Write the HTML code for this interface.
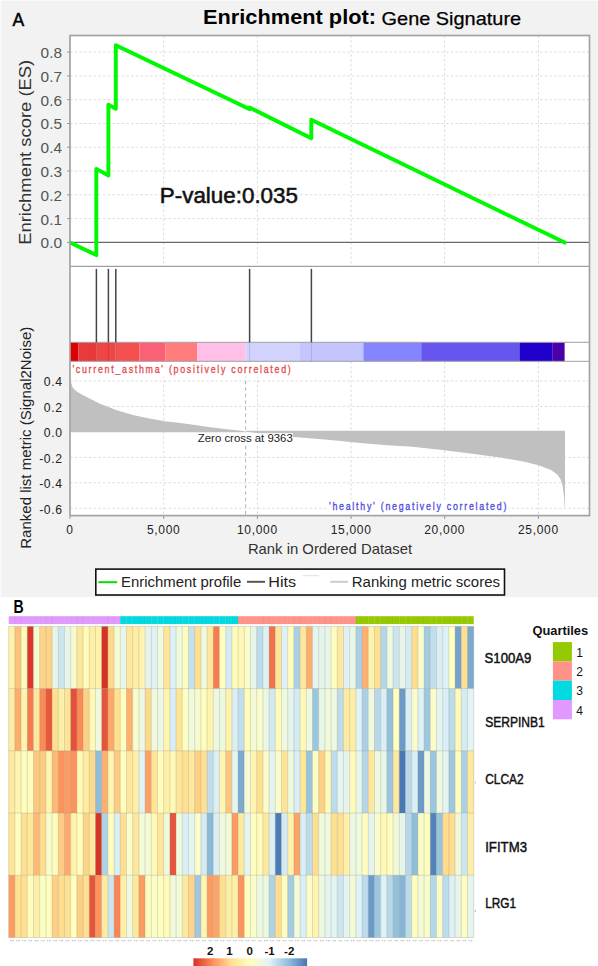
<!DOCTYPE html><html><head><meta charset="utf-8"><style>html,body{margin:0;padding:0;background:#fff;}svg{display:block}text{font-family:"Liberation Sans",sans-serif}</style></head><body>
<svg width="598" height="966" viewBox="0 0 598 966">
<rect x="0" y="0" width="598" height="597.2" fill="#f2f2f2"/><rect x="0" y="0" width="1.3" height="597.2" fill="#fafafa"/><rect x="0" y="0" width="598" height="1" fill="#fafafa"/>
<rect x="70.0" y="35.5" width="519.5" height="480.1" fill="#fff"/>
<g stroke="#dcdcdc" stroke-width="1" stroke-dasharray="2.5,2.2"><line x1="70.0" y1="218.6" x2="589.5" y2="218.6"/><line x1="70.0" y1="194.8" x2="589.5" y2="194.8"/><line x1="70.0" y1="171.0" x2="589.5" y2="171.0"/><line x1="70.0" y1="147.2" x2="589.5" y2="147.2"/><line x1="70.0" y1="123.5" x2="589.5" y2="123.5"/><line x1="70.0" y1="99.7" x2="589.5" y2="99.7"/><line x1="70.0" y1="75.9" x2="589.5" y2="75.9"/><line x1="70.0" y1="52.1" x2="589.5" y2="52.1"/><line x1="163.7" y1="35.5" x2="163.7" y2="266.5"/><line x1="163.7" y1="361.3" x2="163.7" y2="515.6"/><line x1="257.4" y1="35.5" x2="257.4" y2="266.5"/><line x1="257.4" y1="361.3" x2="257.4" y2="515.6"/><line x1="351.1" y1="35.5" x2="351.1" y2="266.5"/><line x1="351.1" y1="361.3" x2="351.1" y2="515.6"/><line x1="444.7" y1="35.5" x2="444.7" y2="266.5"/><line x1="444.7" y1="361.3" x2="444.7" y2="515.6"/><line x1="538.4" y1="35.5" x2="538.4" y2="266.5"/><line x1="538.4" y1="361.3" x2="538.4" y2="515.6"/><line x1="70.0" y1="381.0" x2="589.5" y2="381.0"/><line x1="70.0" y1="406.4" x2="589.5" y2="406.4"/><line x1="70.0" y1="457.4" x2="589.5" y2="457.4"/><line x1="70.0" y1="482.8" x2="589.5" y2="482.8"/><line x1="70.0" y1="508.3" x2="589.5" y2="508.3"/></g>
<line x1="70.0" y1="242.4" x2="589.5" y2="242.4" stroke="#6a6a6a" stroke-width="1.1"/>
<clipPath id="esclip"><rect x="69.3" y="36" width="520" height="230"/></clipPath>
<polyline clip-path="url(#esclip)" fill="none" stroke="#00f800" stroke-width="3.9" stroke-linejoin="round" stroke-linecap="round" points="70,242.4 96.3,255.1 96.3,168.9 108.4,175.5 108.4,104.6 115.8,108.8 115.8,45.3 249.3,109.1 249.6,107.6 311.3,138.2 311.3,119.7 564.7,242.6"/>
<line x1="70.0" y1="266.3" x2="589.5" y2="266.3" stroke="#a0a0a0" stroke-width="1.2"/>
<rect x="70" y="342.4" width="8.50" height="18.9" fill="#dd0000"/>
<rect x="78.5" y="342.4" width="18.10" height="18.9" fill="#e83a3a"/>
<rect x="96.6" y="342.4" width="19.00" height="18.9" fill="#ee4545"/>
<rect x="115.6" y="342.4" width="23.90" height="18.9" fill="#f55050"/>
<rect x="139.5" y="342.4" width="25.70" height="18.9" fill="#fb6176"/>
<rect x="165.2" y="342.4" width="32.10" height="18.9" fill="#ff7d7d"/>
<rect x="197.3" y="342.4" width="48.30" height="18.9" fill="#ffbfe6"/>
<rect x="245.6" y="342.4" width="17.40" height="18.9" fill="#d2d2ff"/>
<rect x="263" y="342.4" width="37.00" height="18.9" fill="#d2d2ff"/>
<rect x="300" y="342.4" width="63.40" height="18.9" fill="#c4c4ff"/>
<rect x="363.4" y="342.4" width="57.80" height="18.9" fill="#8585ff"/>
<rect x="421.2" y="342.4" width="98.20" height="18.9" fill="#6655ee"/>
<rect x="519.4" y="342.4" width="32.80" height="18.9" fill="#2200cc"/>
<rect x="552.2" y="342.4" width="12.40" height="18.9" fill="#4a00a8"/>
<line x1="70.0" y1="342.3" x2="589.5" y2="342.3" stroke="#a0a0a0" stroke-width="1"/>
<line x1="70.0" y1="361.3" x2="589.5" y2="361.3" stroke="#a0a0a0" stroke-width="1"/>
<line x1="96.4" y1="268.9" x2="96.4" y2="342.3" stroke="#454545" stroke-width="1.5"/>
<line x1="96.4" y1="342.3" x2="96.4" y2="361.3" stroke="#000" stroke-opacity="0.12" stroke-width="1"/>
<line x1="108.4" y1="268.9" x2="108.4" y2="342.3" stroke="#454545" stroke-width="1.5"/>
<line x1="108.4" y1="342.3" x2="108.4" y2="361.3" stroke="#000" stroke-opacity="0.12" stroke-width="1"/>
<line x1="115.8" y1="268.9" x2="115.8" y2="342.3" stroke="#454545" stroke-width="1.5"/>
<line x1="115.8" y1="342.3" x2="115.8" y2="361.3" stroke="#000" stroke-opacity="0.12" stroke-width="1"/>
<line x1="249.6" y1="268.9" x2="249.6" y2="342.3" stroke="#454545" stroke-width="1.5"/>
<line x1="249.6" y1="342.3" x2="249.6" y2="361.3" stroke="#000" stroke-opacity="0.12" stroke-width="1"/>
<line x1="311.4" y1="268.9" x2="311.4" y2="342.3" stroke="#454545" stroke-width="1.5"/>
<line x1="311.4" y1="342.3" x2="311.4" y2="361.3" stroke="#000" stroke-opacity="0.12" stroke-width="1"/>
<path d="M70.2,432.3 L70.2,382.3 L71,382.5 L72.7,387.5 L76,390.9 L82.7,395 L91,399.2 L99.4,403.4 L116.2,410.1 L132.9,415.1 L149.6,418.5 L166,421.5 L176.7,422.6 L193.4,424.7 L210.2,427.3 L226.9,429.3 L243.6,430.9 L245.5,431.8 L245.5,432.3 Z" fill="#c0c0c0"/>
<path d="M245.5,430.8 L245.5,431.8 L294.2,437 L330.3,440 L360.4,443 L390.5,445.5 L410,446.5 L440.1,449.7 L470.2,453.6 L500.3,457.5 L524.4,461.7 L539.4,465.6 L551.5,470.2 L557.5,474.7 L560.5,479.2 L562.6,485.2 L564.1,497.2 L564.7,507.8 L565,507.8 L565,430.8 Z" fill="#c0c0c0"/>
<line x1="245.6" y1="361.3" x2="245.6" y2="515.6" stroke="#b4b4b4" stroke-width="1" stroke-dasharray="3.5,3"/>
<rect x="197" y="433.2" width="96" height="11" fill="#fff"/>
<text x="197.8" y="442.1" font-size="10.6" fill="#222" textLength="95" lengthAdjust="spacingAndGlyphs">Zero cross at 9363</text>
<rect x="70.0" y="35.5" width="519.5" height="480.1" fill="none" stroke="#a4a4a4" stroke-width="1.7"/>
<line x1="67" y1="242.4" x2="70" y2="242.4" stroke="#999" stroke-width="1"/>
<text x="62" y="248.3" font-size="15.4" fill="#555" text-anchor="end">0.0</text>
<line x1="67" y1="218.6" x2="70" y2="218.6" stroke="#999" stroke-width="1"/>
<text x="62" y="224.5" font-size="15.4" fill="#555" text-anchor="end">0.1</text>
<line x1="67" y1="194.8" x2="70" y2="194.8" stroke="#999" stroke-width="1"/>
<text x="62" y="200.7" font-size="15.4" fill="#555" text-anchor="end">0.2</text>
<line x1="67" y1="171.0" x2="70" y2="171.0" stroke="#999" stroke-width="1"/>
<text x="62" y="176.9" font-size="15.4" fill="#555" text-anchor="end">0.3</text>
<line x1="67" y1="147.2" x2="70" y2="147.2" stroke="#999" stroke-width="1"/>
<text x="62" y="153.1" font-size="15.4" fill="#555" text-anchor="end">0.4</text>
<line x1="67" y1="123.5" x2="70" y2="123.5" stroke="#999" stroke-width="1"/>
<text x="62" y="129.3" font-size="15.4" fill="#555" text-anchor="end">0.5</text>
<line x1="67" y1="99.7" x2="70" y2="99.7" stroke="#999" stroke-width="1"/>
<text x="62" y="105.6" font-size="15.4" fill="#555" text-anchor="end">0.6</text>
<line x1="67" y1="75.9" x2="70" y2="75.9" stroke="#999" stroke-width="1"/>
<text x="62" y="81.8" font-size="15.4" fill="#555" text-anchor="end">0.7</text>
<line x1="67" y1="52.1" x2="70" y2="52.1" stroke="#999" stroke-width="1"/>
<text x="62" y="58.0" font-size="15.4" fill="#555" text-anchor="end">0.8</text>
<text x="62.6" y="386.3" font-size="12.2" fill="#222" text-anchor="end" letter-spacing="0.6">0.4</text>
<text x="62.6" y="411.7" font-size="12.2" fill="#222" text-anchor="end" letter-spacing="0.6">0.2</text>
<text x="62.6" y="437.2" font-size="12.2" fill="#222" text-anchor="end" letter-spacing="0.6">0.0</text>
<text x="62.6" y="462.7" font-size="12.2" fill="#222" text-anchor="end" letter-spacing="0.6">-0.2</text>
<text x="62.6" y="488.1" font-size="12.2" fill="#222" text-anchor="end" letter-spacing="0.6">-0.4</text>
<text x="62.6" y="513.6" font-size="12.2" fill="#222" text-anchor="end" letter-spacing="0.6">-0.6</text>
<line x1="70.0" y1="516" x2="70.0" y2="519" stroke="#999" stroke-width="1"/>
<text x="70.0" y="534.4" font-size="12" fill="#222" text-anchor="middle" letter-spacing="0.7">0</text>
<line x1="163.7" y1="516" x2="163.7" y2="519" stroke="#999" stroke-width="1"/>
<text x="163.7" y="534.4" font-size="12" fill="#222" text-anchor="middle" letter-spacing="0.7">5,000</text>
<line x1="257.4" y1="516" x2="257.4" y2="519" stroke="#999" stroke-width="1"/>
<text x="257.4" y="534.4" font-size="12" fill="#222" text-anchor="middle" letter-spacing="0.7">10,000</text>
<line x1="351.1" y1="516" x2="351.1" y2="519" stroke="#999" stroke-width="1"/>
<text x="351.1" y="534.4" font-size="12" fill="#222" text-anchor="middle" letter-spacing="0.7">15,000</text>
<line x1="444.7" y1="516" x2="444.7" y2="519" stroke="#999" stroke-width="1"/>
<text x="444.7" y="534.4" font-size="12" fill="#222" text-anchor="middle" letter-spacing="0.7">20,000</text>
<line x1="538.4" y1="516" x2="538.4" y2="519" stroke="#999" stroke-width="1"/>
<text x="538.4" y="534.4" font-size="12" fill="#222" text-anchor="middle" letter-spacing="0.7">25,000</text>
<text x="0" y="0" font-size="16.5" fill="#333" text-anchor="middle" transform="translate(31,152.3) rotate(-90)" textLength="185" lengthAdjust="spacingAndGlyphs">Enrichment score (ES)</text>
<text x="0" y="0" font-size="14.3" fill="#222" text-anchor="middle" transform="translate(31,437.75) rotate(-90)" textLength="222" lengthAdjust="spacingAndGlyphs">Ranked list metric (Signal2Noise)</text>
<text x="247.9" y="554.1" font-size="14.6" fill="#333" textLength="164.2" lengthAdjust="spacingAndGlyphs">Rank in Ordered Dataset</text>
<rect x="71" y="362.2" width="221" height="14.6" fill="#fff"/>
<text x="0" y="0" transform="translate(72.4,373.4) scale(0.82,1)" font-size="10.8" fill="#e25050" stroke="#e25050" stroke-width="0.35" textLength="266.3" lengthAdjust="spacing">&#39;current_asthma&#39; (positively correlated)</text>
<rect x="327" y="499.5" width="181" height="14" fill="#fff"/>
<text x="0" y="0" transform="translate(329,509.9) scale(0.82,1)" font-size="10.8" fill="#5050dc" stroke="#5050dc" stroke-width="0.35" textLength="216.3" lengthAdjust="spacing">&#39;healthy&#39; (negatively correlated)</text>
<text x="159.8" y="202.6" font-size="21.8" fill="#111" stroke="#111" stroke-width="0.55" textLength="138.2" lengthAdjust="spacingAndGlyphs">P-value:0.035</text>
<text x="12.6" y="25.6" font-size="17.5" fill="#000" stroke="#000" stroke-width="0.5">A</text>
<text x="203" y="23.5" font-size="20.3" font-weight="bold" fill="#000" textLength="173" lengthAdjust="spacingAndGlyphs">Enrichment plot:</text>
<text x="381.6" y="24.7" font-size="18.6" fill="#000" stroke="#000" stroke-width="0.25" textLength="139.5" lengthAdjust="spacingAndGlyphs">Gene Signature</text>
<rect x="95.8" y="569.1" width="408.7" height="25.9" fill="#fff" stroke="#111" stroke-width="1.6"/>
<line x1="98.4" y1="582.2" x2="117.2" y2="582.2" stroke="#00e000" stroke-width="2"/>
<text x="121" y="586.8" font-size="14" fill="#222" textLength="120.2" lengthAdjust="spacingAndGlyphs">Enrichment profile</text>
<line x1="247" y1="581.8" x2="265" y2="581.8" stroke="#555" stroke-width="2"/>
<text x="268.3" y="586.8" font-size="14" fill="#222" textLength="27.8" lengthAdjust="spacingAndGlyphs">Hits</text>
<line x1="302.7" y1="575.5" x2="319" y2="575.5" stroke="#e8e8e8" stroke-width="1.5"/>
<line x1="330.3" y1="581.8" x2="348" y2="581.8" stroke="#cccccc" stroke-width="2"/>
<text x="351.8" y="586.8" font-size="14" fill="#222" textLength="148.2" lengthAdjust="spacingAndGlyphs">Ranking metric scores</text>
<text x="0" y="0" font-size="18.5" font-weight="bold" fill="#000" transform="translate(13.6,613.3) scale(0.76,1)">B</text>
<rect x="8.70" y="616.2" width="6.20" height="7.9" fill="#E199FF"/>
<rect x="14.90" y="616.2" width="6.20" height="7.9" fill="#E199FF"/>
<rect x="21.10" y="616.2" width="6.20" height="7.9" fill="#E199FF"/>
<rect x="27.30" y="616.2" width="6.20" height="7.9" fill="#E199FF"/>
<rect x="33.50" y="616.2" width="6.20" height="7.9" fill="#E199FF"/>
<rect x="39.70" y="616.2" width="6.20" height="7.9" fill="#E199FF"/>
<rect x="45.90" y="616.2" width="6.20" height="7.9" fill="#E199FF"/>
<rect x="52.10" y="616.2" width="6.20" height="7.9" fill="#E199FF"/>
<rect x="58.30" y="616.2" width="6.20" height="7.9" fill="#E199FF"/>
<rect x="64.50" y="616.2" width="6.20" height="7.9" fill="#E199FF"/>
<rect x="70.70" y="616.2" width="6.20" height="7.9" fill="#E199FF"/>
<rect x="76.90" y="616.2" width="6.20" height="7.9" fill="#E199FF"/>
<rect x="83.10" y="616.2" width="6.20" height="7.9" fill="#E199FF"/>
<rect x="89.30" y="616.2" width="6.20" height="7.9" fill="#E199FF"/>
<rect x="95.50" y="616.2" width="6.20" height="7.9" fill="#E199FF"/>
<rect x="101.70" y="616.2" width="6.20" height="7.9" fill="#E199FF"/>
<rect x="107.90" y="616.2" width="6.20" height="7.9" fill="#E199FF"/>
<rect x="114.10" y="616.2" width="6.20" height="7.9" fill="#E199FF"/>
<rect x="120.30" y="616.2" width="6.20" height="7.9" fill="#00DAE0"/>
<rect x="126.50" y="616.2" width="6.20" height="7.9" fill="#00DAE0"/>
<rect x="132.70" y="616.2" width="6.20" height="7.9" fill="#00DAE0"/>
<rect x="138.90" y="616.2" width="6.20" height="7.9" fill="#00DAE0"/>
<rect x="145.10" y="616.2" width="6.20" height="7.9" fill="#00DAE0"/>
<rect x="151.30" y="616.2" width="6.20" height="7.9" fill="#00DAE0"/>
<rect x="157.50" y="616.2" width="6.20" height="7.9" fill="#00DAE0"/>
<rect x="163.70" y="616.2" width="6.20" height="7.9" fill="#00DAE0"/>
<rect x="169.90" y="616.2" width="6.20" height="7.9" fill="#00DAE0"/>
<rect x="176.10" y="616.2" width="6.20" height="7.9" fill="#00DAE0"/>
<rect x="182.30" y="616.2" width="6.20" height="7.9" fill="#00DAE0"/>
<rect x="188.50" y="616.2" width="6.20" height="7.9" fill="#00DAE0"/>
<rect x="194.70" y="616.2" width="6.20" height="7.9" fill="#00DAE0"/>
<rect x="200.90" y="616.2" width="6.20" height="7.9" fill="#00DAE0"/>
<rect x="207.10" y="616.2" width="6.20" height="7.9" fill="#00DAE0"/>
<rect x="213.30" y="616.2" width="6.20" height="7.9" fill="#00DAE0"/>
<rect x="219.50" y="616.2" width="6.20" height="7.9" fill="#00DAE0"/>
<rect x="225.70" y="616.2" width="6.20" height="7.9" fill="#00DAE0"/>
<rect x="231.90" y="616.2" width="6.20" height="7.9" fill="#00DAE0"/>
<rect x="238.10" y="616.2" width="6.20" height="7.9" fill="#FF9289"/>
<rect x="244.30" y="616.2" width="6.20" height="7.9" fill="#FF9289"/>
<rect x="250.50" y="616.2" width="6.20" height="7.9" fill="#FF9289"/>
<rect x="256.70" y="616.2" width="6.20" height="7.9" fill="#FF9289"/>
<rect x="262.90" y="616.2" width="6.20" height="7.9" fill="#FF9289"/>
<rect x="269.10" y="616.2" width="6.20" height="7.9" fill="#FF9289"/>
<rect x="275.30" y="616.2" width="6.20" height="7.9" fill="#FF9289"/>
<rect x="281.50" y="616.2" width="6.20" height="7.9" fill="#FF9289"/>
<rect x="287.70" y="616.2" width="6.20" height="7.9" fill="#FF9289"/>
<rect x="293.90" y="616.2" width="6.20" height="7.9" fill="#FF9289"/>
<rect x="300.10" y="616.2" width="6.20" height="7.9" fill="#FF9289"/>
<rect x="306.30" y="616.2" width="6.20" height="7.9" fill="#FF9289"/>
<rect x="312.50" y="616.2" width="6.20" height="7.9" fill="#FF9289"/>
<rect x="318.70" y="616.2" width="6.20" height="7.9" fill="#FF9289"/>
<rect x="324.90" y="616.2" width="6.20" height="7.9" fill="#FF9289"/>
<rect x="331.10" y="616.2" width="6.20" height="7.9" fill="#FF9289"/>
<rect x="337.30" y="616.2" width="6.20" height="7.9" fill="#FF9289"/>
<rect x="343.50" y="616.2" width="6.20" height="7.9" fill="#FF9289"/>
<rect x="349.70" y="616.2" width="6.20" height="7.9" fill="#FF9289"/>
<rect x="355.90" y="616.2" width="6.20" height="7.9" fill="#96CA00"/>
<rect x="362.10" y="616.2" width="6.20" height="7.9" fill="#96CA00"/>
<rect x="368.30" y="616.2" width="6.20" height="7.9" fill="#96CA00"/>
<rect x="374.50" y="616.2" width="6.20" height="7.9" fill="#96CA00"/>
<rect x="380.70" y="616.2" width="6.20" height="7.9" fill="#96CA00"/>
<rect x="386.90" y="616.2" width="6.20" height="7.9" fill="#96CA00"/>
<rect x="393.10" y="616.2" width="6.20" height="7.9" fill="#96CA00"/>
<rect x="399.30" y="616.2" width="6.20" height="7.9" fill="#96CA00"/>
<rect x="405.50" y="616.2" width="6.20" height="7.9" fill="#96CA00"/>
<rect x="411.70" y="616.2" width="6.20" height="7.9" fill="#96CA00"/>
<rect x="417.90" y="616.2" width="6.20" height="7.9" fill="#96CA00"/>
<rect x="424.10" y="616.2" width="6.20" height="7.9" fill="#96CA00"/>
<rect x="430.30" y="616.2" width="6.20" height="7.9" fill="#96CA00"/>
<rect x="436.50" y="616.2" width="6.20" height="7.9" fill="#96CA00"/>
<rect x="442.70" y="616.2" width="6.20" height="7.9" fill="#96CA00"/>
<rect x="448.90" y="616.2" width="6.20" height="7.9" fill="#96CA00"/>
<rect x="455.10" y="616.2" width="6.20" height="7.9" fill="#96CA00"/>
<rect x="461.30" y="616.2" width="6.20" height="7.9" fill="#96CA00"/>
<rect x="467.50" y="616.2" width="6.20" height="7.9" fill="#96CA00"/>
<g stroke="#000" stroke-opacity="0.12" stroke-width="0.6"><line x1="14.90" y1="616.2" x2="14.90" y2="624.1"/><line x1="21.10" y1="616.2" x2="21.10" y2="624.1"/><line x1="27.30" y1="616.2" x2="27.30" y2="624.1"/><line x1="33.50" y1="616.2" x2="33.50" y2="624.1"/><line x1="39.70" y1="616.2" x2="39.70" y2="624.1"/><line x1="45.90" y1="616.2" x2="45.90" y2="624.1"/><line x1="52.10" y1="616.2" x2="52.10" y2="624.1"/><line x1="58.30" y1="616.2" x2="58.30" y2="624.1"/><line x1="64.50" y1="616.2" x2="64.50" y2="624.1"/><line x1="70.70" y1="616.2" x2="70.70" y2="624.1"/><line x1="76.90" y1="616.2" x2="76.90" y2="624.1"/><line x1="83.10" y1="616.2" x2="83.10" y2="624.1"/><line x1="89.30" y1="616.2" x2="89.30" y2="624.1"/><line x1="95.50" y1="616.2" x2="95.50" y2="624.1"/><line x1="101.70" y1="616.2" x2="101.70" y2="624.1"/><line x1="107.90" y1="616.2" x2="107.90" y2="624.1"/><line x1="114.10" y1="616.2" x2="114.10" y2="624.1"/><line x1="120.30" y1="616.2" x2="120.30" y2="624.1"/><line x1="126.50" y1="616.2" x2="126.50" y2="624.1"/><line x1="132.70" y1="616.2" x2="132.70" y2="624.1"/><line x1="138.90" y1="616.2" x2="138.90" y2="624.1"/><line x1="145.10" y1="616.2" x2="145.10" y2="624.1"/><line x1="151.30" y1="616.2" x2="151.30" y2="624.1"/><line x1="157.50" y1="616.2" x2="157.50" y2="624.1"/><line x1="163.70" y1="616.2" x2="163.70" y2="624.1"/><line x1="169.90" y1="616.2" x2="169.90" y2="624.1"/><line x1="176.10" y1="616.2" x2="176.10" y2="624.1"/><line x1="182.30" y1="616.2" x2="182.30" y2="624.1"/><line x1="188.50" y1="616.2" x2="188.50" y2="624.1"/><line x1="194.70" y1="616.2" x2="194.70" y2="624.1"/><line x1="200.90" y1="616.2" x2="200.90" y2="624.1"/><line x1="207.10" y1="616.2" x2="207.10" y2="624.1"/><line x1="213.30" y1="616.2" x2="213.30" y2="624.1"/><line x1="219.50" y1="616.2" x2="219.50" y2="624.1"/><line x1="225.70" y1="616.2" x2="225.70" y2="624.1"/><line x1="231.90" y1="616.2" x2="231.90" y2="624.1"/><line x1="238.10" y1="616.2" x2="238.10" y2="624.1"/><line x1="244.30" y1="616.2" x2="244.30" y2="624.1"/><line x1="250.50" y1="616.2" x2="250.50" y2="624.1"/><line x1="256.70" y1="616.2" x2="256.70" y2="624.1"/><line x1="262.90" y1="616.2" x2="262.90" y2="624.1"/><line x1="269.10" y1="616.2" x2="269.10" y2="624.1"/><line x1="275.30" y1="616.2" x2="275.30" y2="624.1"/><line x1="281.50" y1="616.2" x2="281.50" y2="624.1"/><line x1="287.70" y1="616.2" x2="287.70" y2="624.1"/><line x1="293.90" y1="616.2" x2="293.90" y2="624.1"/><line x1="300.10" y1="616.2" x2="300.10" y2="624.1"/><line x1="306.30" y1="616.2" x2="306.30" y2="624.1"/><line x1="312.50" y1="616.2" x2="312.50" y2="624.1"/><line x1="318.70" y1="616.2" x2="318.70" y2="624.1"/><line x1="324.90" y1="616.2" x2="324.90" y2="624.1"/><line x1="331.10" y1="616.2" x2="331.10" y2="624.1"/><line x1="337.30" y1="616.2" x2="337.30" y2="624.1"/><line x1="343.50" y1="616.2" x2="343.50" y2="624.1"/><line x1="349.70" y1="616.2" x2="349.70" y2="624.1"/><line x1="355.90" y1="616.2" x2="355.90" y2="624.1"/><line x1="362.10" y1="616.2" x2="362.10" y2="624.1"/><line x1="368.30" y1="616.2" x2="368.30" y2="624.1"/><line x1="374.50" y1="616.2" x2="374.50" y2="624.1"/><line x1="380.70" y1="616.2" x2="380.70" y2="624.1"/><line x1="386.90" y1="616.2" x2="386.90" y2="624.1"/><line x1="393.10" y1="616.2" x2="393.10" y2="624.1"/><line x1="399.30" y1="616.2" x2="399.30" y2="624.1"/><line x1="405.50" y1="616.2" x2="405.50" y2="624.1"/><line x1="411.70" y1="616.2" x2="411.70" y2="624.1"/><line x1="417.90" y1="616.2" x2="417.90" y2="624.1"/><line x1="424.10" y1="616.2" x2="424.10" y2="624.1"/><line x1="430.30" y1="616.2" x2="430.30" y2="624.1"/><line x1="436.50" y1="616.2" x2="436.50" y2="624.1"/><line x1="442.70" y1="616.2" x2="442.70" y2="624.1"/><line x1="448.90" y1="616.2" x2="448.90" y2="624.1"/><line x1="455.10" y1="616.2" x2="455.10" y2="624.1"/><line x1="461.30" y1="616.2" x2="461.30" y2="624.1"/><line x1="467.50" y1="616.2" x2="467.50" y2="624.1"/></g>
<rect x="8.70" y="626.40" width="6.25" height="62.27" fill="#fff2ab"/>
<rect x="14.90" y="626.40" width="6.25" height="62.27" fill="#fdc37d"/>
<rect x="21.10" y="626.40" width="6.25" height="62.27" fill="#fffcba"/>
<rect x="27.30" y="626.40" width="6.25" height="62.27" fill="#da382b"/>
<rect x="33.50" y="626.40" width="6.25" height="62.27" fill="#f5fbd1"/>
<rect x="39.70" y="626.40" width="6.25" height="62.27" fill="#fed488"/>
<rect x="45.90" y="626.40" width="6.25" height="62.27" fill="#fed488"/>
<rect x="52.10" y="626.40" width="6.25" height="62.27" fill="#e8f6e9"/>
<rect x="58.30" y="626.40" width="6.25" height="62.27" fill="#cce6f1"/>
<rect x="64.50" y="626.40" width="6.25" height="62.27" fill="#e5f5ee"/>
<rect x="70.70" y="626.40" width="6.25" height="62.27" fill="#f5fbd1"/>
<rect x="76.90" y="626.40" width="6.25" height="62.27" fill="#fee79a"/>
<rect x="83.10" y="626.40" width="6.25" height="62.27" fill="#fffcba"/>
<rect x="89.30" y="626.40" width="6.25" height="62.27" fill="#feefa7"/>
<rect x="95.50" y="626.40" width="6.25" height="62.27" fill="#fff2ab"/>
<rect x="101.70" y="626.40" width="6.25" height="62.27" fill="#d73027"/>
<rect x="107.90" y="626.40" width="6.25" height="62.27" fill="#fed88b"/>
<rect x="114.10" y="626.40" width="6.25" height="62.27" fill="#f5fbd1"/>
<rect x="120.30" y="626.40" width="6.25" height="62.27" fill="#e8f6e9"/>
<rect x="126.50" y="626.40" width="6.25" height="62.27" fill="#fee89d"/>
<rect x="132.70" y="626.40" width="6.25" height="62.27" fill="#feefa7"/>
<rect x="138.90" y="626.40" width="6.25" height="62.27" fill="#fff5b0"/>
<rect x="145.10" y="626.40" width="6.25" height="62.27" fill="#e5f5ee"/>
<rect x="151.30" y="626.40" width="6.25" height="62.27" fill="#ddf1f7"/>
<rect x="157.50" y="626.40" width="6.25" height="62.27" fill="#eff9dd"/>
<rect x="163.70" y="626.40" width="6.25" height="62.27" fill="#fee598"/>
<rect x="169.90" y="626.40" width="6.25" height="62.27" fill="#ddf1f7"/>
<rect x="176.10" y="626.40" width="6.25" height="62.27" fill="#eff9dd"/>
<rect x="182.30" y="626.40" width="6.25" height="62.27" fill="#fffdbd"/>
<rect x="188.50" y="626.40" width="6.25" height="62.27" fill="#c4e1ee"/>
<rect x="194.70" y="626.40" width="6.25" height="62.27" fill="#fee090"/>
<rect x="200.90" y="626.40" width="6.25" height="62.27" fill="#eff9dd"/>
<rect x="207.10" y="626.40" width="6.25" height="62.27" fill="#fee89d"/>
<rect x="213.30" y="626.40" width="6.25" height="62.27" fill="#f57c50"/>
<rect x="219.50" y="626.40" width="6.25" height="62.27" fill="#ffffbf"/>
<rect x="225.70" y="626.40" width="6.25" height="62.27" fill="#d4ebf4"/>
<rect x="231.90" y="626.40" width="6.25" height="62.27" fill="#fffcba"/>
<rect x="238.10" y="626.40" width="6.25" height="62.27" fill="#fff7b3"/>
<rect x="244.30" y="626.40" width="6.25" height="62.27" fill="#fafdc8"/>
<rect x="250.50" y="626.40" width="6.25" height="62.27" fill="#e8f6e9"/>
<rect x="256.70" y="626.40" width="6.25" height="62.27" fill="#bcdbeb"/>
<rect x="262.90" y="626.40" width="6.25" height="62.27" fill="#ddf1f7"/>
<rect x="269.10" y="626.40" width="6.25" height="62.27" fill="#f1724a"/>
<rect x="275.30" y="626.40" width="6.25" height="62.27" fill="#fee495"/>
<rect x="281.50" y="626.40" width="6.25" height="62.27" fill="#ddf1f7"/>
<rect x="287.70" y="626.40" width="6.25" height="62.27" fill="#fffdbd"/>
<rect x="293.90" y="626.40" width="6.25" height="62.27" fill="#abd0e5"/>
<rect x="300.10" y="626.40" width="6.25" height="62.27" fill="#fee89d"/>
<rect x="306.30" y="626.40" width="6.25" height="62.27" fill="#fdad6e"/>
<rect x="312.50" y="626.40" width="6.25" height="62.27" fill="#e4f4f1"/>
<rect x="318.70" y="626.40" width="6.25" height="62.27" fill="#e5f5ee"/>
<rect x="324.90" y="626.40" width="6.25" height="62.27" fill="#e8f6e9"/>
<rect x="331.10" y="626.40" width="6.25" height="62.27" fill="#fffdbd"/>
<rect x="337.30" y="626.40" width="6.25" height="62.27" fill="#fee89d"/>
<rect x="343.50" y="626.40" width="6.25" height="62.27" fill="#ddf1f7"/>
<rect x="349.70" y="626.40" width="6.25" height="62.27" fill="#eaf7e6"/>
<rect x="355.90" y="626.40" width="6.25" height="62.27" fill="#abd0e5"/>
<rect x="362.10" y="626.40" width="6.25" height="62.27" fill="#fdb171"/>
<rect x="368.30" y="626.40" width="6.25" height="62.27" fill="#fff2ab"/>
<rect x="374.50" y="626.40" width="6.25" height="62.27" fill="#fee090"/>
<rect x="380.70" y="626.40" width="6.25" height="62.27" fill="#b4d6e8"/>
<rect x="386.90" y="626.40" width="6.25" height="62.27" fill="#eff9dd"/>
<rect x="393.10" y="626.40" width="6.25" height="62.27" fill="#cce6f1"/>
<rect x="399.30" y="626.40" width="6.25" height="62.27" fill="#e8f6e9"/>
<rect x="405.50" y="626.40" width="6.25" height="62.27" fill="#d4ebf4"/>
<rect x="411.70" y="626.40" width="6.25" height="62.27" fill="#fedd8e"/>
<rect x="417.90" y="626.40" width="6.25" height="62.27" fill="#f9fccb"/>
<rect x="424.10" y="626.40" width="6.25" height="62.27" fill="#a3cbe2"/>
<rect x="430.30" y="626.40" width="6.25" height="62.27" fill="#c0deec"/>
<rect x="436.50" y="626.40" width="6.25" height="62.27" fill="#d9eef5"/>
<rect x="442.70" y="626.40" width="6.25" height="62.27" fill="#ddf1f7"/>
<rect x="448.90" y="626.40" width="6.25" height="62.27" fill="#ffffbf"/>
<rect x="455.10" y="626.40" width="6.25" height="62.27" fill="#73a2cc"/>
<rect x="461.30" y="626.40" width="6.25" height="62.27" fill="#fee090"/>
<rect x="467.50" y="626.40" width="6.25" height="62.27" fill="#7ba9d0"/>
<rect x="8.70" y="688.62" width="6.25" height="62.27" fill="#feeda4"/>
<rect x="14.90" y="688.62" width="6.25" height="62.27" fill="#fdad6e"/>
<rect x="21.10" y="688.62" width="6.25" height="62.27" fill="#fff5b0"/>
<rect x="27.30" y="688.62" width="6.25" height="62.27" fill="#f57c50"/>
<rect x="33.50" y="688.62" width="6.25" height="62.27" fill="#fee89d"/>
<rect x="39.70" y="688.62" width="6.25" height="62.27" fill="#fb8a57"/>
<rect x="45.90" y="688.62" width="6.25" height="62.27" fill="#e85a3d"/>
<rect x="52.10" y="688.62" width="6.25" height="62.27" fill="#fee090"/>
<rect x="58.30" y="688.62" width="6.25" height="62.27" fill="#fff0a9"/>
<rect x="64.50" y="688.62" width="6.25" height="62.27" fill="#fee495"/>
<rect x="70.70" y="688.62" width="6.25" height="62.27" fill="#e45038"/>
<rect x="76.90" y="688.62" width="6.25" height="62.27" fill="#fb8a57"/>
<rect x="83.10" y="688.62" width="6.25" height="62.27" fill="#fed085"/>
<rect x="89.30" y="688.62" width="6.25" height="62.27" fill="#fff9b5"/>
<rect x="95.50" y="688.62" width="6.25" height="62.27" fill="#eff9dd"/>
<rect x="101.70" y="688.62" width="6.25" height="62.27" fill="#e6553b"/>
<rect x="107.90" y="688.62" width="6.25" height="62.27" fill="#fda96b"/>
<rect x="114.10" y="688.62" width="6.25" height="62.27" fill="#fee090"/>
<rect x="120.30" y="688.62" width="6.25" height="62.27" fill="#fffdbd"/>
<rect x="126.50" y="688.62" width="6.25" height="62.27" fill="#fdb171"/>
<rect x="132.70" y="688.62" width="6.25" height="62.27" fill="#f9fccb"/>
<rect x="138.90" y="688.62" width="6.25" height="62.27" fill="#ecf8e3"/>
<rect x="145.10" y="688.62" width="6.25" height="62.27" fill="#fed88b"/>
<rect x="151.30" y="688.62" width="6.25" height="62.27" fill="#eff9dd"/>
<rect x="157.50" y="688.62" width="6.25" height="62.27" fill="#ecf8e3"/>
<rect x="163.70" y="688.62" width="6.25" height="62.27" fill="#fff5b0"/>
<rect x="169.90" y="688.62" width="6.25" height="62.27" fill="#d9eef5"/>
<rect x="176.10" y="688.62" width="6.25" height="62.27" fill="#fee495"/>
<rect x="182.30" y="688.62" width="6.25" height="62.27" fill="#fdfec2"/>
<rect x="188.50" y="688.62" width="6.25" height="62.27" fill="#eff9dd"/>
<rect x="194.70" y="688.62" width="6.25" height="62.27" fill="#f5fbd1"/>
<rect x="200.90" y="688.62" width="6.25" height="62.27" fill="#fffdbd"/>
<rect x="207.10" y="688.62" width="6.25" height="62.27" fill="#fff4ae"/>
<rect x="213.30" y="688.62" width="6.25" height="62.27" fill="#edf8e0"/>
<rect x="219.50" y="688.62" width="6.25" height="62.27" fill="#edf8e0"/>
<rect x="225.70" y="688.62" width="6.25" height="62.27" fill="#fff2ab"/>
<rect x="231.90" y="688.62" width="6.25" height="62.27" fill="#d9eef5"/>
<rect x="238.10" y="688.62" width="6.25" height="62.27" fill="#c0deec"/>
<rect x="244.30" y="688.62" width="6.25" height="62.27" fill="#fffcba"/>
<rect x="250.50" y="688.62" width="6.25" height="62.27" fill="#f2fad7"/>
<rect x="256.70" y="688.62" width="6.25" height="62.27" fill="#f9fccb"/>
<rect x="262.90" y="688.62" width="6.25" height="62.27" fill="#eaf7e6"/>
<rect x="269.10" y="688.62" width="6.25" height="62.27" fill="#d0e9f2"/>
<rect x="275.30" y="688.62" width="6.25" height="62.27" fill="#fffcba"/>
<rect x="281.50" y="688.62" width="6.25" height="62.27" fill="#eff9dd"/>
<rect x="287.70" y="688.62" width="6.25" height="62.27" fill="#e5f5ee"/>
<rect x="293.90" y="688.62" width="6.25" height="62.27" fill="#d4ebf4"/>
<rect x="300.10" y="688.62" width="6.25" height="62.27" fill="#fffab8"/>
<rect x="306.30" y="688.62" width="6.25" height="62.27" fill="#eff9dd"/>
<rect x="312.50" y="688.62" width="6.25" height="62.27" fill="#9bc6df"/>
<rect x="318.70" y="688.62" width="6.25" height="62.27" fill="#e8f6e9"/>
<rect x="324.90" y="688.62" width="6.25" height="62.27" fill="#f0f9da"/>
<rect x="331.10" y="688.62" width="6.25" height="62.27" fill="#edf8e0"/>
<rect x="337.30" y="688.62" width="6.25" height="62.27" fill="#bcdbeb"/>
<rect x="343.50" y="688.62" width="6.25" height="62.27" fill="#feea9f"/>
<rect x="349.70" y="688.62" width="6.25" height="62.27" fill="#feeda4"/>
<rect x="355.90" y="688.62" width="6.25" height="62.27" fill="#e0f3f7"/>
<rect x="362.10" y="688.62" width="6.25" height="62.27" fill="#abd0e5"/>
<rect x="368.30" y="688.62" width="6.25" height="62.27" fill="#eff9dd"/>
<rect x="374.50" y="688.62" width="6.25" height="62.27" fill="#b8d8e9"/>
<rect x="380.70" y="688.62" width="6.25" height="62.27" fill="#d9eef5"/>
<rect x="386.90" y="688.62" width="6.25" height="62.27" fill="#93c0dc"/>
<rect x="393.10" y="688.62" width="6.25" height="62.27" fill="#ffffbf"/>
<rect x="399.30" y="688.62" width="6.25" height="62.27" fill="#6b9ac8"/>
<rect x="405.50" y="688.62" width="6.25" height="62.27" fill="#d9eef5"/>
<rect x="411.70" y="688.62" width="6.25" height="62.27" fill="#f9fccb"/>
<rect x="417.90" y="688.62" width="6.25" height="62.27" fill="#ddf1f7"/>
<rect x="424.10" y="688.62" width="6.25" height="62.27" fill="#9fc8e0"/>
<rect x="430.30" y="688.62" width="6.25" height="62.27" fill="#fafdc8"/>
<rect x="436.50" y="688.62" width="6.25" height="62.27" fill="#e4f4f1"/>
<rect x="442.70" y="688.62" width="6.25" height="62.27" fill="#d9eef5"/>
<rect x="448.90" y="688.62" width="6.25" height="62.27" fill="#bcdbeb"/>
<rect x="455.10" y="688.62" width="6.25" height="62.27" fill="#fffab8"/>
<rect x="461.30" y="688.62" width="6.25" height="62.27" fill="#d4ebf4"/>
<rect x="467.50" y="688.62" width="6.25" height="62.27" fill="#e2f4f4"/>
<rect x="8.70" y="750.84" width="6.25" height="62.27" fill="#feea9f"/>
<rect x="14.90" y="750.84" width="6.25" height="62.27" fill="#fff5b0"/>
<rect x="21.10" y="750.84" width="6.25" height="62.27" fill="#fffdbd"/>
<rect x="27.30" y="750.84" width="6.25" height="62.27" fill="#fffdbd"/>
<rect x="33.50" y="750.84" width="6.25" height="62.27" fill="#fdc77f"/>
<rect x="39.70" y="750.84" width="6.25" height="62.27" fill="#fecb82"/>
<rect x="45.90" y="750.84" width="6.25" height="62.27" fill="#fff5b0"/>
<rect x="52.10" y="750.84" width="6.25" height="62.27" fill="#fdba77"/>
<rect x="58.30" y="750.84" width="6.25" height="62.27" fill="#fc935d"/>
<rect x="64.50" y="750.84" width="6.25" height="62.27" fill="#fc9c63"/>
<rect x="70.70" y="750.84" width="6.25" height="62.27" fill="#fc935d"/>
<rect x="76.90" y="750.84" width="6.25" height="62.27" fill="#fffab8"/>
<rect x="83.10" y="750.84" width="6.25" height="62.27" fill="#feeca2"/>
<rect x="89.30" y="750.84" width="6.25" height="62.27" fill="#fed88b"/>
<rect x="95.50" y="750.84" width="6.25" height="62.27" fill="#8fbdda"/>
<rect x="101.70" y="750.84" width="6.25" height="62.27" fill="#fdb171"/>
<rect x="107.90" y="750.84" width="6.25" height="62.27" fill="#fff5b0"/>
<rect x="114.10" y="750.84" width="6.25" height="62.27" fill="#fecb82"/>
<rect x="120.30" y="750.84" width="6.25" height="62.27" fill="#fffdbd"/>
<rect x="126.50" y="750.84" width="6.25" height="62.27" fill="#fee89d"/>
<rect x="132.70" y="750.84" width="6.25" height="62.27" fill="#fff0a9"/>
<rect x="138.90" y="750.84" width="6.25" height="62.27" fill="#e0f3f7"/>
<rect x="145.10" y="750.84" width="6.25" height="62.27" fill="#fca066"/>
<rect x="151.30" y="750.84" width="6.25" height="62.27" fill="#fee495"/>
<rect x="157.50" y="750.84" width="6.25" height="62.27" fill="#fffdbd"/>
<rect x="163.70" y="750.84" width="6.25" height="62.27" fill="#fff0a9"/>
<rect x="169.90" y="750.84" width="6.25" height="62.27" fill="#fffab8"/>
<rect x="176.10" y="750.84" width="6.25" height="62.27" fill="#fee79a"/>
<rect x="182.30" y="750.84" width="6.25" height="62.27" fill="#fee090"/>
<rect x="188.50" y="750.84" width="6.25" height="62.27" fill="#fee89d"/>
<rect x="194.70" y="750.84" width="6.25" height="62.27" fill="#fed085"/>
<rect x="200.90" y="750.84" width="6.25" height="62.27" fill="#fee293"/>
<rect x="207.10" y="750.84" width="6.25" height="62.27" fill="#c0deec"/>
<rect x="213.30" y="750.84" width="6.25" height="62.27" fill="#d9eef5"/>
<rect x="219.50" y="750.84" width="6.25" height="62.27" fill="#fff5b0"/>
<rect x="225.70" y="750.84" width="6.25" height="62.27" fill="#fdc77f"/>
<rect x="231.90" y="750.84" width="6.25" height="62.27" fill="#e4f4f1"/>
<rect x="238.10" y="750.84" width="6.25" height="62.27" fill="#7ba9d0"/>
<rect x="244.30" y="750.84" width="6.25" height="62.27" fill="#f2fad7"/>
<rect x="250.50" y="750.84" width="6.25" height="62.27" fill="#fff5b0"/>
<rect x="256.70" y="750.84" width="6.25" height="62.27" fill="#fee090"/>
<rect x="262.90" y="750.84" width="6.25" height="62.27" fill="#fafdc8"/>
<rect x="269.10" y="750.84" width="6.25" height="62.27" fill="#e5f5ee"/>
<rect x="275.30" y="750.84" width="6.25" height="62.27" fill="#f9fccb"/>
<rect x="281.50" y="750.84" width="6.25" height="62.27" fill="#fee495"/>
<rect x="287.70" y="750.84" width="6.25" height="62.27" fill="#eff9dd"/>
<rect x="293.90" y="750.84" width="6.25" height="62.27" fill="#d9eef5"/>
<rect x="300.10" y="750.84" width="6.25" height="62.27" fill="#fee79a"/>
<rect x="306.30" y="750.84" width="6.25" height="62.27" fill="#97c3dd"/>
<rect x="312.50" y="750.84" width="6.25" height="62.27" fill="#fafdc8"/>
<rect x="318.70" y="750.84" width="6.25" height="62.27" fill="#fed085"/>
<rect x="324.90" y="750.84" width="6.25" height="62.27" fill="#fffab8"/>
<rect x="331.10" y="750.84" width="6.25" height="62.27" fill="#bcdbeb"/>
<rect x="337.30" y="750.84" width="6.25" height="62.27" fill="#e4f4f1"/>
<rect x="343.50" y="750.84" width="6.25" height="62.27" fill="#e5f5ee"/>
<rect x="349.70" y="750.84" width="6.25" height="62.27" fill="#fffcba"/>
<rect x="355.90" y="750.84" width="6.25" height="62.27" fill="#e8f6e9"/>
<rect x="362.10" y="750.84" width="6.25" height="62.27" fill="#b4d6e8"/>
<rect x="368.30" y="750.84" width="6.25" height="62.27" fill="#fee89d"/>
<rect x="374.50" y="750.84" width="6.25" height="62.27" fill="#eff9dd"/>
<rect x="380.70" y="750.84" width="6.25" height="62.27" fill="#e8f6e9"/>
<rect x="386.90" y="750.84" width="6.25" height="62.27" fill="#9bc6df"/>
<rect x="393.10" y="750.84" width="6.25" height="62.27" fill="#fee89d"/>
<rect x="399.30" y="750.84" width="6.25" height="62.27" fill="#4777b5"/>
<rect x="405.50" y="750.84" width="6.25" height="62.27" fill="#b8d8e9"/>
<rect x="411.70" y="750.84" width="6.25" height="62.27" fill="#d9eef5"/>
<rect x="417.90" y="750.84" width="6.25" height="62.27" fill="#6b9ac8"/>
<rect x="424.10" y="750.84" width="6.25" height="62.27" fill="#ecf8e3"/>
<rect x="430.30" y="750.84" width="6.25" height="62.27" fill="#9bc6df"/>
<rect x="436.50" y="750.84" width="6.25" height="62.27" fill="#eff9dd"/>
<rect x="442.70" y="750.84" width="6.25" height="62.27" fill="#e4f4f1"/>
<rect x="448.90" y="750.84" width="6.25" height="62.27" fill="#9fc8e0"/>
<rect x="455.10" y="750.84" width="6.25" height="62.27" fill="#fffdbd"/>
<rect x="461.30" y="750.84" width="6.25" height="62.27" fill="#abd0e5"/>
<rect x="467.50" y="750.84" width="6.25" height="62.27" fill="#fee89d"/>
<rect x="8.70" y="813.06" width="6.25" height="62.27" fill="#fee495"/>
<rect x="14.90" y="813.06" width="6.25" height="62.27" fill="#fdfec2"/>
<rect x="21.10" y="813.06" width="6.25" height="62.27" fill="#fee090"/>
<rect x="27.30" y="813.06" width="6.25" height="62.27" fill="#fee79a"/>
<rect x="33.50" y="813.06" width="6.25" height="62.27" fill="#fdba77"/>
<rect x="39.70" y="813.06" width="6.25" height="62.27" fill="#fedd8e"/>
<rect x="45.90" y="813.06" width="6.25" height="62.27" fill="#f9fccb"/>
<rect x="52.10" y="813.06" width="6.25" height="62.27" fill="#fffdbd"/>
<rect x="58.30" y="813.06" width="6.25" height="62.27" fill="#fecb82"/>
<rect x="64.50" y="813.06" width="6.25" height="62.27" fill="#fda96b"/>
<rect x="70.70" y="813.06" width="6.25" height="62.27" fill="#fff2ab"/>
<rect x="76.90" y="813.06" width="6.25" height="62.27" fill="#fffdbd"/>
<rect x="83.10" y="813.06" width="6.25" height="62.27" fill="#fed488"/>
<rect x="89.30" y="813.06" width="6.25" height="62.27" fill="#fee89d"/>
<rect x="95.50" y="813.06" width="6.25" height="62.27" fill="#d83329"/>
<rect x="101.70" y="813.06" width="6.25" height="62.27" fill="#afd3e6"/>
<rect x="107.90" y="813.06" width="6.25" height="62.27" fill="#fffdbd"/>
<rect x="114.10" y="813.06" width="6.25" height="62.27" fill="#d9eef5"/>
<rect x="120.30" y="813.06" width="6.25" height="62.27" fill="#fee090"/>
<rect x="126.50" y="813.06" width="6.25" height="62.27" fill="#f9fccb"/>
<rect x="132.70" y="813.06" width="6.25" height="62.27" fill="#fee79a"/>
<rect x="138.90" y="813.06" width="6.25" height="62.27" fill="#f2fad7"/>
<rect x="145.10" y="813.06" width="6.25" height="62.27" fill="#f2fad7"/>
<rect x="151.30" y="813.06" width="6.25" height="62.27" fill="#fff9b5"/>
<rect x="157.50" y="813.06" width="6.25" height="62.27" fill="#fee598"/>
<rect x="163.70" y="813.06" width="6.25" height="62.27" fill="#eff9dd"/>
<rect x="169.90" y="813.06" width="6.25" height="62.27" fill="#e6553b"/>
<rect x="176.10" y="813.06" width="6.25" height="62.27" fill="#eff9dd"/>
<rect x="182.30" y="813.06" width="6.25" height="62.27" fill="#d9eef5"/>
<rect x="188.50" y="813.06" width="6.25" height="62.27" fill="#e4f4f1"/>
<rect x="194.70" y="813.06" width="6.25" height="62.27" fill="#f9fccb"/>
<rect x="200.90" y="813.06" width="6.25" height="62.27" fill="#d4ebf4"/>
<rect x="207.10" y="813.06" width="6.25" height="62.27" fill="#8bb9d8"/>
<rect x="213.30" y="813.06" width="6.25" height="62.27" fill="#d9eef5"/>
<rect x="219.50" y="813.06" width="6.25" height="62.27" fill="#eff9dd"/>
<rect x="225.70" y="813.06" width="6.25" height="62.27" fill="#f2fad7"/>
<rect x="231.90" y="813.06" width="6.25" height="62.27" fill="#fc9c63"/>
<rect x="238.10" y="813.06" width="6.25" height="62.27" fill="#feea9f"/>
<rect x="244.30" y="813.06" width="6.25" height="62.27" fill="#e4f4f1"/>
<rect x="250.50" y="813.06" width="6.25" height="62.27" fill="#fffdbd"/>
<rect x="256.70" y="813.06" width="6.25" height="62.27" fill="#fffcba"/>
<rect x="262.90" y="813.06" width="6.25" height="62.27" fill="#feea9f"/>
<rect x="269.10" y="813.06" width="6.25" height="62.27" fill="#d9eef5"/>
<rect x="275.30" y="813.06" width="6.25" height="62.27" fill="#4b7bb7"/>
<rect x="281.50" y="813.06" width="6.25" height="62.27" fill="#d4ebf4"/>
<rect x="287.70" y="813.06" width="6.25" height="62.27" fill="#fff2ab"/>
<rect x="293.90" y="813.06" width="6.25" height="62.27" fill="#fda468"/>
<rect x="300.10" y="813.06" width="6.25" height="62.27" fill="#d9eef5"/>
<rect x="306.30" y="813.06" width="6.25" height="62.27" fill="#bcdbeb"/>
<rect x="312.50" y="813.06" width="6.25" height="62.27" fill="#fedd8e"/>
<rect x="318.70" y="813.06" width="6.25" height="62.27" fill="#eff9dd"/>
<rect x="324.90" y="813.06" width="6.25" height="62.27" fill="#eff9dd"/>
<rect x="331.10" y="813.06" width="6.25" height="62.27" fill="#fee293"/>
<rect x="337.30" y="813.06" width="6.25" height="62.27" fill="#fee090"/>
<rect x="343.50" y="813.06" width="6.25" height="62.27" fill="#feefa7"/>
<rect x="349.70" y="813.06" width="6.25" height="62.27" fill="#ecf8e3"/>
<rect x="355.90" y="813.06" width="6.25" height="62.27" fill="#eff9dd"/>
<rect x="362.10" y="813.06" width="6.25" height="62.27" fill="#fffdbd"/>
<rect x="368.30" y="813.06" width="6.25" height="62.27" fill="#e4f4f1"/>
<rect x="374.50" y="813.06" width="6.25" height="62.27" fill="#f9fccb"/>
<rect x="380.70" y="813.06" width="6.25" height="62.27" fill="#fff9b5"/>
<rect x="386.90" y="813.06" width="6.25" height="62.27" fill="#fffdbd"/>
<rect x="393.10" y="813.06" width="6.25" height="62.27" fill="#eff9dd"/>
<rect x="399.30" y="813.06" width="6.25" height="62.27" fill="#e8f6e9"/>
<rect x="405.50" y="813.06" width="6.25" height="62.27" fill="#b8d8e9"/>
<rect x="411.70" y="813.06" width="6.25" height="62.27" fill="#8fbdda"/>
<rect x="417.90" y="813.06" width="6.25" height="62.27" fill="#fafdc8"/>
<rect x="424.10" y="813.06" width="6.25" height="62.27" fill="#fffdbd"/>
<rect x="430.30" y="813.06" width="6.25" height="62.27" fill="#5383bb"/>
<rect x="436.50" y="813.06" width="6.25" height="62.27" fill="#97c3dd"/>
<rect x="442.70" y="813.06" width="6.25" height="62.27" fill="#fedd8e"/>
<rect x="448.90" y="813.06" width="6.25" height="62.27" fill="#fedd8e"/>
<rect x="455.10" y="813.06" width="6.25" height="62.27" fill="#eff9dd"/>
<rect x="461.30" y="813.06" width="6.25" height="62.27" fill="#cce6f1"/>
<rect x="467.50" y="813.06" width="6.25" height="62.27" fill="#feefa7"/>
<rect x="8.70" y="875.28" width="6.25" height="62.27" fill="#fc9c63"/>
<rect x="14.90" y="875.28" width="6.25" height="62.27" fill="#fee293"/>
<rect x="21.10" y="875.28" width="6.25" height="62.27" fill="#fee090"/>
<rect x="27.30" y="875.28" width="6.25" height="62.27" fill="#fffdbd"/>
<rect x="33.50" y="875.28" width="6.25" height="62.27" fill="#feefa7"/>
<rect x="39.70" y="875.28" width="6.25" height="62.27" fill="#fdfec2"/>
<rect x="45.90" y="875.28" width="6.25" height="62.27" fill="#fffdbd"/>
<rect x="52.10" y="875.28" width="6.25" height="62.27" fill="#fed085"/>
<rect x="58.30" y="875.28" width="6.25" height="62.27" fill="#fedd8e"/>
<rect x="64.50" y="875.28" width="6.25" height="62.27" fill="#fee090"/>
<rect x="70.70" y="875.28" width="6.25" height="62.27" fill="#ffffbf"/>
<rect x="76.90" y="875.28" width="6.25" height="62.27" fill="#fed085"/>
<rect x="83.10" y="875.28" width="6.25" height="62.27" fill="#fee090"/>
<rect x="89.30" y="875.28" width="6.25" height="62.27" fill="#e6553b"/>
<rect x="95.50" y="875.28" width="6.25" height="62.27" fill="#fc935d"/>
<rect x="101.70" y="875.28" width="6.25" height="62.27" fill="#feeca2"/>
<rect x="107.90" y="875.28" width="6.25" height="62.27" fill="#cce6f1"/>
<rect x="114.10" y="875.28" width="6.25" height="62.27" fill="#f98555"/>
<rect x="120.30" y="875.28" width="6.25" height="62.27" fill="#feefa7"/>
<rect x="126.50" y="875.28" width="6.25" height="62.27" fill="#eff9dd"/>
<rect x="132.70" y="875.28" width="6.25" height="62.27" fill="#fee89d"/>
<rect x="138.90" y="875.28" width="6.25" height="62.27" fill="#fc9c63"/>
<rect x="145.10" y="875.28" width="6.25" height="62.27" fill="#fffdbd"/>
<rect x="151.30" y="875.28" width="6.25" height="62.27" fill="#fafdc8"/>
<rect x="157.50" y="875.28" width="6.25" height="62.27" fill="#fffdbd"/>
<rect x="163.70" y="875.28" width="6.25" height="62.27" fill="#fffab8"/>
<rect x="169.90" y="875.28" width="6.25" height="62.27" fill="#eff9dd"/>
<rect x="176.10" y="875.28" width="6.25" height="62.27" fill="#f2fad7"/>
<rect x="182.30" y="875.28" width="6.25" height="62.27" fill="#fee89d"/>
<rect x="188.50" y="875.28" width="6.25" height="62.27" fill="#fed488"/>
<rect x="194.70" y="875.28" width="6.25" height="62.27" fill="#9fc8e0"/>
<rect x="200.90" y="875.28" width="6.25" height="62.27" fill="#fff5b0"/>
<rect x="207.10" y="875.28" width="6.25" height="62.27" fill="#fc9c63"/>
<rect x="213.30" y="875.28" width="6.25" height="62.27" fill="#fda468"/>
<rect x="219.50" y="875.28" width="6.25" height="62.27" fill="#fee090"/>
<rect x="225.70" y="875.28" width="6.25" height="62.27" fill="#feeda4"/>
<rect x="231.90" y="875.28" width="6.25" height="62.27" fill="#feefa7"/>
<rect x="238.10" y="875.28" width="6.25" height="62.27" fill="#fc935d"/>
<rect x="244.30" y="875.28" width="6.25" height="62.27" fill="#fffdbd"/>
<rect x="250.50" y="875.28" width="6.25" height="62.27" fill="#f9fccb"/>
<rect x="256.70" y="875.28" width="6.25" height="62.27" fill="#edf8e0"/>
<rect x="262.90" y="875.28" width="6.25" height="62.27" fill="#edf8e0"/>
<rect x="269.10" y="875.28" width="6.25" height="62.27" fill="#afd3e6"/>
<rect x="275.30" y="875.28" width="6.25" height="62.27" fill="#fedd8e"/>
<rect x="281.50" y="875.28" width="6.25" height="62.27" fill="#fffdbd"/>
<rect x="287.70" y="875.28" width="6.25" height="62.27" fill="#a3cbe2"/>
<rect x="293.90" y="875.28" width="6.25" height="62.27" fill="#f2fad7"/>
<rect x="300.10" y="875.28" width="6.25" height="62.27" fill="#d9eef5"/>
<rect x="306.30" y="875.28" width="6.25" height="62.27" fill="#fafdc8"/>
<rect x="312.50" y="875.28" width="6.25" height="62.27" fill="#fff4ae"/>
<rect x="318.70" y="875.28" width="6.25" height="62.27" fill="#edf8e0"/>
<rect x="324.90" y="875.28" width="6.25" height="62.27" fill="#e4f4f1"/>
<rect x="331.10" y="875.28" width="6.25" height="62.27" fill="#e4f4f1"/>
<rect x="337.30" y="875.28" width="6.25" height="62.27" fill="#cce6f1"/>
<rect x="343.50" y="875.28" width="6.25" height="62.27" fill="#e4f4f1"/>
<rect x="349.70" y="875.28" width="6.25" height="62.27" fill="#f2fad7"/>
<rect x="355.90" y="875.28" width="6.25" height="62.27" fill="#e0f3f7"/>
<rect x="362.10" y="875.28" width="6.25" height="62.27" fill="#bcdbeb"/>
<rect x="368.30" y="875.28" width="6.25" height="62.27" fill="#6b9ac8"/>
<rect x="374.50" y="875.28" width="6.25" height="62.27" fill="#9bc6df"/>
<rect x="380.70" y="875.28" width="6.25" height="62.27" fill="#ddf1f7"/>
<rect x="386.90" y="875.28" width="6.25" height="62.27" fill="#b8d8e9"/>
<rect x="393.10" y="875.28" width="6.25" height="62.27" fill="#93c0dc"/>
<rect x="399.30" y="875.28" width="6.25" height="62.27" fill="#87b5d6"/>
<rect x="405.50" y="875.28" width="6.25" height="62.27" fill="#bcdbeb"/>
<rect x="411.70" y="875.28" width="6.25" height="62.27" fill="#fffdbd"/>
<rect x="417.90" y="875.28" width="6.25" height="62.27" fill="#f2fad7"/>
<rect x="424.10" y="875.28" width="6.25" height="62.27" fill="#f9fccb"/>
<rect x="430.30" y="875.28" width="6.25" height="62.27" fill="#b4d6e8"/>
<rect x="436.50" y="875.28" width="6.25" height="62.27" fill="#fafdc8"/>
<rect x="442.70" y="875.28" width="6.25" height="62.27" fill="#bcdbeb"/>
<rect x="448.90" y="875.28" width="6.25" height="62.27" fill="#ddf1f7"/>
<rect x="455.10" y="875.28" width="6.25" height="62.27" fill="#e8f6e9"/>
<rect x="461.30" y="875.28" width="6.25" height="62.27" fill="#fffdbd"/>
<rect x="467.50" y="875.28" width="6.25" height="62.27" fill="#e5f5ee"/>
<g stroke="#8a8a70" stroke-opacity="0.35" stroke-width="0.8"><line x1="8.70" y1="626.4" x2="8.70" y2="937.50"/><line x1="14.90" y1="626.4" x2="14.90" y2="937.50"/><line x1="21.10" y1="626.4" x2="21.10" y2="937.50"/><line x1="27.30" y1="626.4" x2="27.30" y2="937.50"/><line x1="33.50" y1="626.4" x2="33.50" y2="937.50"/><line x1="39.70" y1="626.4" x2="39.70" y2="937.50"/><line x1="45.90" y1="626.4" x2="45.90" y2="937.50"/><line x1="52.10" y1="626.4" x2="52.10" y2="937.50"/><line x1="58.30" y1="626.4" x2="58.30" y2="937.50"/><line x1="64.50" y1="626.4" x2="64.50" y2="937.50"/><line x1="70.70" y1="626.4" x2="70.70" y2="937.50"/><line x1="76.90" y1="626.4" x2="76.90" y2="937.50"/><line x1="83.10" y1="626.4" x2="83.10" y2="937.50"/><line x1="89.30" y1="626.4" x2="89.30" y2="937.50"/><line x1="95.50" y1="626.4" x2="95.50" y2="937.50"/><line x1="101.70" y1="626.4" x2="101.70" y2="937.50"/><line x1="107.90" y1="626.4" x2="107.90" y2="937.50"/><line x1="114.10" y1="626.4" x2="114.10" y2="937.50"/><line x1="120.30" y1="626.4" x2="120.30" y2="937.50"/><line x1="126.50" y1="626.4" x2="126.50" y2="937.50"/><line x1="132.70" y1="626.4" x2="132.70" y2="937.50"/><line x1="138.90" y1="626.4" x2="138.90" y2="937.50"/><line x1="145.10" y1="626.4" x2="145.10" y2="937.50"/><line x1="151.30" y1="626.4" x2="151.30" y2="937.50"/><line x1="157.50" y1="626.4" x2="157.50" y2="937.50"/><line x1="163.70" y1="626.4" x2="163.70" y2="937.50"/><line x1="169.90" y1="626.4" x2="169.90" y2="937.50"/><line x1="176.10" y1="626.4" x2="176.10" y2="937.50"/><line x1="182.30" y1="626.4" x2="182.30" y2="937.50"/><line x1="188.50" y1="626.4" x2="188.50" y2="937.50"/><line x1="194.70" y1="626.4" x2="194.70" y2="937.50"/><line x1="200.90" y1="626.4" x2="200.90" y2="937.50"/><line x1="207.10" y1="626.4" x2="207.10" y2="937.50"/><line x1="213.30" y1="626.4" x2="213.30" y2="937.50"/><line x1="219.50" y1="626.4" x2="219.50" y2="937.50"/><line x1="225.70" y1="626.4" x2="225.70" y2="937.50"/><line x1="231.90" y1="626.4" x2="231.90" y2="937.50"/><line x1="238.10" y1="626.4" x2="238.10" y2="937.50"/><line x1="244.30" y1="626.4" x2="244.30" y2="937.50"/><line x1="250.50" y1="626.4" x2="250.50" y2="937.50"/><line x1="256.70" y1="626.4" x2="256.70" y2="937.50"/><line x1="262.90" y1="626.4" x2="262.90" y2="937.50"/><line x1="269.10" y1="626.4" x2="269.10" y2="937.50"/><line x1="275.30" y1="626.4" x2="275.30" y2="937.50"/><line x1="281.50" y1="626.4" x2="281.50" y2="937.50"/><line x1="287.70" y1="626.4" x2="287.70" y2="937.50"/><line x1="293.90" y1="626.4" x2="293.90" y2="937.50"/><line x1="300.10" y1="626.4" x2="300.10" y2="937.50"/><line x1="306.30" y1="626.4" x2="306.30" y2="937.50"/><line x1="312.50" y1="626.4" x2="312.50" y2="937.50"/><line x1="318.70" y1="626.4" x2="318.70" y2="937.50"/><line x1="324.90" y1="626.4" x2="324.90" y2="937.50"/><line x1="331.10" y1="626.4" x2="331.10" y2="937.50"/><line x1="337.30" y1="626.4" x2="337.30" y2="937.50"/><line x1="343.50" y1="626.4" x2="343.50" y2="937.50"/><line x1="349.70" y1="626.4" x2="349.70" y2="937.50"/><line x1="355.90" y1="626.4" x2="355.90" y2="937.50"/><line x1="362.10" y1="626.4" x2="362.10" y2="937.50"/><line x1="368.30" y1="626.4" x2="368.30" y2="937.50"/><line x1="374.50" y1="626.4" x2="374.50" y2="937.50"/><line x1="380.70" y1="626.4" x2="380.70" y2="937.50"/><line x1="386.90" y1="626.4" x2="386.90" y2="937.50"/><line x1="393.10" y1="626.4" x2="393.10" y2="937.50"/><line x1="399.30" y1="626.4" x2="399.30" y2="937.50"/><line x1="405.50" y1="626.4" x2="405.50" y2="937.50"/><line x1="411.70" y1="626.4" x2="411.70" y2="937.50"/><line x1="417.90" y1="626.4" x2="417.90" y2="937.50"/><line x1="424.10" y1="626.4" x2="424.10" y2="937.50"/><line x1="430.30" y1="626.4" x2="430.30" y2="937.50"/><line x1="436.50" y1="626.4" x2="436.50" y2="937.50"/><line x1="442.70" y1="626.4" x2="442.70" y2="937.50"/><line x1="448.90" y1="626.4" x2="448.90" y2="937.50"/><line x1="455.10" y1="626.4" x2="455.10" y2="937.50"/><line x1="461.30" y1="626.4" x2="461.30" y2="937.50"/><line x1="467.50" y1="626.4" x2="467.50" y2="937.50"/><line x1="473.70" y1="626.4" x2="473.70" y2="937.50"/><line x1="8.7" y1="626.40" x2="473.70" y2="626.40"/><line x1="8.7" y1="688.62" x2="473.70" y2="688.62"/><line x1="8.7" y1="750.84" x2="473.70" y2="750.84"/><line x1="8.7" y1="813.06" x2="473.70" y2="813.06"/><line x1="8.7" y1="875.28" x2="473.70" y2="875.28"/><line x1="8.7" y1="937.50" x2="473.70" y2="937.50"/></g>
<g fill="#c4c4c4"><rect x="9.90" y="940" width="1.2" height="1.3"/><rect x="11.90" y="940" width="1.6" height="1.3"/><rect x="16.10" y="940" width="1.2" height="1.3"/><rect x="18.10" y="940" width="1.6" height="1.3"/><rect x="22.30" y="940" width="1.2" height="1.3"/><rect x="24.30" y="940" width="1.6" height="1.3"/><rect x="28.50" y="940" width="1.2" height="1.3"/><rect x="30.50" y="940" width="1.6" height="1.3"/><rect x="34.70" y="940" width="1.2" height="1.3"/><rect x="36.70" y="940" width="1.6" height="1.3"/><rect x="40.90" y="940" width="1.2" height="1.3"/><rect x="42.90" y="940" width="1.6" height="1.3"/><rect x="47.10" y="940" width="1.2" height="1.3"/><rect x="49.10" y="940" width="1.6" height="1.3"/><rect x="53.30" y="940" width="1.2" height="1.3"/><rect x="55.30" y="940" width="1.6" height="1.3"/><rect x="59.50" y="940" width="1.2" height="1.3"/><rect x="61.50" y="940" width="1.6" height="1.3"/><rect x="65.70" y="940" width="1.2" height="1.3"/><rect x="67.70" y="940" width="1.6" height="1.3"/><rect x="71.90" y="940" width="1.2" height="1.3"/><rect x="73.90" y="940" width="1.6" height="1.3"/><rect x="78.10" y="940" width="1.2" height="1.3"/><rect x="80.10" y="940" width="1.6" height="1.3"/><rect x="84.30" y="940" width="1.2" height="1.3"/><rect x="86.30" y="940" width="1.6" height="1.3"/><rect x="90.50" y="940" width="1.2" height="1.3"/><rect x="92.50" y="940" width="1.6" height="1.3"/><rect x="96.70" y="940" width="1.2" height="1.3"/><rect x="98.70" y="940" width="1.6" height="1.3"/><rect x="102.90" y="940" width="1.2" height="1.3"/><rect x="104.90" y="940" width="1.6" height="1.3"/><rect x="109.10" y="940" width="1.2" height="1.3"/><rect x="111.10" y="940" width="1.6" height="1.3"/><rect x="115.30" y="940" width="1.2" height="1.3"/><rect x="117.30" y="940" width="1.6" height="1.3"/><rect x="121.50" y="940" width="1.2" height="1.3"/><rect x="123.50" y="940" width="1.6" height="1.3"/><rect x="127.70" y="940" width="1.2" height="1.3"/><rect x="129.70" y="940" width="1.6" height="1.3"/><rect x="133.90" y="940" width="1.2" height="1.3"/><rect x="135.90" y="940" width="1.6" height="1.3"/><rect x="140.10" y="940" width="1.2" height="1.3"/><rect x="142.10" y="940" width="1.6" height="1.3"/><rect x="146.30" y="940" width="1.2" height="1.3"/><rect x="148.30" y="940" width="1.6" height="1.3"/><rect x="152.50" y="940" width="1.2" height="1.3"/><rect x="154.50" y="940" width="1.6" height="1.3"/><rect x="158.70" y="940" width="1.2" height="1.3"/><rect x="160.70" y="940" width="1.6" height="1.3"/><rect x="164.90" y="940" width="1.2" height="1.3"/><rect x="166.90" y="940" width="1.6" height="1.3"/><rect x="171.10" y="940" width="1.2" height="1.3"/><rect x="173.10" y="940" width="1.6" height="1.3"/><rect x="177.30" y="940" width="1.2" height="1.3"/><rect x="179.30" y="940" width="1.6" height="1.3"/><rect x="183.50" y="940" width="1.2" height="1.3"/><rect x="185.50" y="940" width="1.6" height="1.3"/><rect x="189.70" y="940" width="1.2" height="1.3"/><rect x="191.70" y="940" width="1.6" height="1.3"/><rect x="195.90" y="940" width="1.2" height="1.3"/><rect x="197.90" y="940" width="1.6" height="1.3"/><rect x="202.10" y="940" width="1.2" height="1.3"/><rect x="204.10" y="940" width="1.6" height="1.3"/><rect x="208.30" y="940" width="1.2" height="1.3"/><rect x="210.30" y="940" width="1.6" height="1.3"/><rect x="214.50" y="940" width="1.2" height="1.3"/><rect x="216.50" y="940" width="1.6" height="1.3"/><rect x="220.70" y="940" width="1.2" height="1.3"/><rect x="222.70" y="940" width="1.6" height="1.3"/><rect x="226.90" y="940" width="1.2" height="1.3"/><rect x="228.90" y="940" width="1.6" height="1.3"/><rect x="233.10" y="940" width="1.2" height="1.3"/><rect x="235.10" y="940" width="1.6" height="1.3"/><rect x="239.30" y="940" width="1.2" height="1.3"/><rect x="241.30" y="940" width="1.6" height="1.3"/><rect x="245.50" y="940" width="1.2" height="1.3"/><rect x="247.50" y="940" width="1.6" height="1.3"/><rect x="251.70" y="940" width="1.2" height="1.3"/><rect x="253.70" y="940" width="1.6" height="1.3"/><rect x="257.90" y="940" width="1.2" height="1.3"/><rect x="259.90" y="940" width="1.6" height="1.3"/><rect x="264.10" y="940" width="1.2" height="1.3"/><rect x="266.10" y="940" width="1.6" height="1.3"/><rect x="270.30" y="940" width="1.2" height="1.3"/><rect x="272.30" y="940" width="1.6" height="1.3"/><rect x="276.50" y="940" width="1.2" height="1.3"/><rect x="278.50" y="940" width="1.6" height="1.3"/><rect x="282.70" y="940" width="1.2" height="1.3"/><rect x="284.70" y="940" width="1.6" height="1.3"/><rect x="288.90" y="940" width="1.2" height="1.3"/><rect x="290.90" y="940" width="1.6" height="1.3"/><rect x="295.10" y="940" width="1.2" height="1.3"/><rect x="297.10" y="940" width="1.6" height="1.3"/><rect x="301.30" y="940" width="1.2" height="1.3"/><rect x="303.30" y="940" width="1.6" height="1.3"/><rect x="307.50" y="940" width="1.2" height="1.3"/><rect x="309.50" y="940" width="1.6" height="1.3"/><rect x="313.70" y="940" width="1.2" height="1.3"/><rect x="315.70" y="940" width="1.6" height="1.3"/><rect x="319.90" y="940" width="1.2" height="1.3"/><rect x="321.90" y="940" width="1.6" height="1.3"/><rect x="326.10" y="940" width="1.2" height="1.3"/><rect x="328.10" y="940" width="1.6" height="1.3"/><rect x="332.30" y="940" width="1.2" height="1.3"/><rect x="334.30" y="940" width="1.6" height="1.3"/><rect x="338.50" y="940" width="1.2" height="1.3"/><rect x="340.50" y="940" width="1.6" height="1.3"/><rect x="344.70" y="940" width="1.2" height="1.3"/><rect x="346.70" y="940" width="1.6" height="1.3"/><rect x="350.90" y="940" width="1.2" height="1.3"/><rect x="352.90" y="940" width="1.6" height="1.3"/><rect x="357.10" y="940" width="1.2" height="1.3"/><rect x="359.10" y="940" width="1.6" height="1.3"/><rect x="363.30" y="940" width="1.2" height="1.3"/><rect x="365.30" y="940" width="1.6" height="1.3"/><rect x="369.50" y="940" width="1.2" height="1.3"/><rect x="371.50" y="940" width="1.6" height="1.3"/><rect x="375.70" y="940" width="1.2" height="1.3"/><rect x="377.70" y="940" width="1.6" height="1.3"/><rect x="381.90" y="940" width="1.2" height="1.3"/><rect x="383.90" y="940" width="1.6" height="1.3"/><rect x="388.10" y="940" width="1.2" height="1.3"/><rect x="390.10" y="940" width="1.6" height="1.3"/><rect x="394.30" y="940" width="1.2" height="1.3"/><rect x="396.30" y="940" width="1.6" height="1.3"/><rect x="400.50" y="940" width="1.2" height="1.3"/><rect x="402.50" y="940" width="1.6" height="1.3"/><rect x="406.70" y="940" width="1.2" height="1.3"/><rect x="408.70" y="940" width="1.6" height="1.3"/><rect x="412.90" y="940" width="1.2" height="1.3"/><rect x="414.90" y="940" width="1.6" height="1.3"/><rect x="419.10" y="940" width="1.2" height="1.3"/><rect x="421.10" y="940" width="1.6" height="1.3"/><rect x="425.30" y="940" width="1.2" height="1.3"/><rect x="427.30" y="940" width="1.6" height="1.3"/><rect x="431.50" y="940" width="1.2" height="1.3"/><rect x="433.50" y="940" width="1.6" height="1.3"/><rect x="437.70" y="940" width="1.2" height="1.3"/><rect x="439.70" y="940" width="1.6" height="1.3"/><rect x="443.90" y="940" width="1.2" height="1.3"/><rect x="445.90" y="940" width="1.6" height="1.3"/><rect x="450.10" y="940" width="1.2" height="1.3"/><rect x="452.10" y="940" width="1.6" height="1.3"/><rect x="456.30" y="940" width="1.2" height="1.3"/><rect x="458.30" y="940" width="1.6" height="1.3"/><rect x="462.50" y="940" width="1.2" height="1.3"/><rect x="464.50" y="940" width="1.6" height="1.3"/><rect x="468.70" y="940" width="1.2" height="1.3"/><rect x="470.70" y="940" width="1.6" height="1.3"/></g>
<rect x="474.8" y="781.5" width="1" height="2" fill="#bbb"/><rect x="474.8" y="910" width="1" height="2" fill="#bbb"/>
<text x="484.6" y="662.6" font-size="14" fill="#111" stroke="#111" stroke-width="0.45" textLength="46.7" lengthAdjust="spacingAndGlyphs">S100A9</text>
<text x="485.2" y="726.8" font-size="14" fill="#111" stroke="#111" stroke-width="0.45" textLength="59.6" lengthAdjust="spacingAndGlyphs">SERPINB1</text>
<text x="485.2" y="783.7" font-size="14" fill="#111" stroke="#111" stroke-width="0.45" textLength="38.5" lengthAdjust="spacingAndGlyphs">CLCA2</text>
<text x="485.2" y="852.0" font-size="14" fill="#111" stroke="#111" stroke-width="0.45" textLength="41.8" lengthAdjust="spacingAndGlyphs">IFITM3</text>
<text x="485.2" y="908.2" font-size="14" fill="#111" stroke="#111" stroke-width="0.45" textLength="31.0" lengthAdjust="spacingAndGlyphs">LRG1</text>
<text x="532.4" y="635.2" font-size="12.5" font-weight="bold" fill="#111" textLength="55.7" lengthAdjust="spacingAndGlyphs">Quartiles</text>
<rect x="552.9" y="642.1" width="19" height="19.3" fill="#96CA00"/>
<text x="576.2" y="656.7" font-size="12" fill="#111">1</text>
<rect x="552.9" y="661.4" width="19" height="19.3" fill="#FF9289"/>
<text x="576.2" y="676.0" font-size="12" fill="#111">2</text>
<rect x="552.9" y="680.7" width="19" height="19.3" fill="#00DAE0"/>
<text x="576.2" y="695.3" font-size="12" fill="#111">3</text>
<rect x="552.9" y="700.0" width="19" height="19.3" fill="#E199FF"/>
<text x="576.2" y="714.6" font-size="12" fill="#111">4</text>
<defs><linearGradient id="ck" x1="0" x2="1" y1="0" y2="0"><stop offset="0.0000" stop-color="#D73027"/><stop offset="0.1667" stop-color="#FC8D59"/><stop offset="0.3333" stop-color="#FEE090"/><stop offset="0.5000" stop-color="#FFFFBF"/><stop offset="0.6667" stop-color="#E0F3F8"/><stop offset="0.8333" stop-color="#91BFDB"/><stop offset="1.0000" stop-color="#4575B4"/></linearGradient></defs>
<rect x="193.4" y="958.3" width="113.7" height="7.7" fill="url(#ck)"/>
<text x="210.2" y="954.8" font-size="11.5" font-weight="bold" fill="#111" text-anchor="middle">2</text>
<text x="229.5" y="954.8" font-size="11.5" font-weight="bold" fill="#111" text-anchor="middle">1</text>
<text x="249.6" y="954.8" font-size="11.5" font-weight="bold" fill="#111" text-anchor="middle">0</text>
<text x="269.6" y="954.8" font-size="11.5" font-weight="bold" fill="#111" text-anchor="middle">-1</text>
<text x="289.2" y="954.8" font-size="11.5" font-weight="bold" fill="#111" text-anchor="middle">-2</text>
</svg></body></html>
